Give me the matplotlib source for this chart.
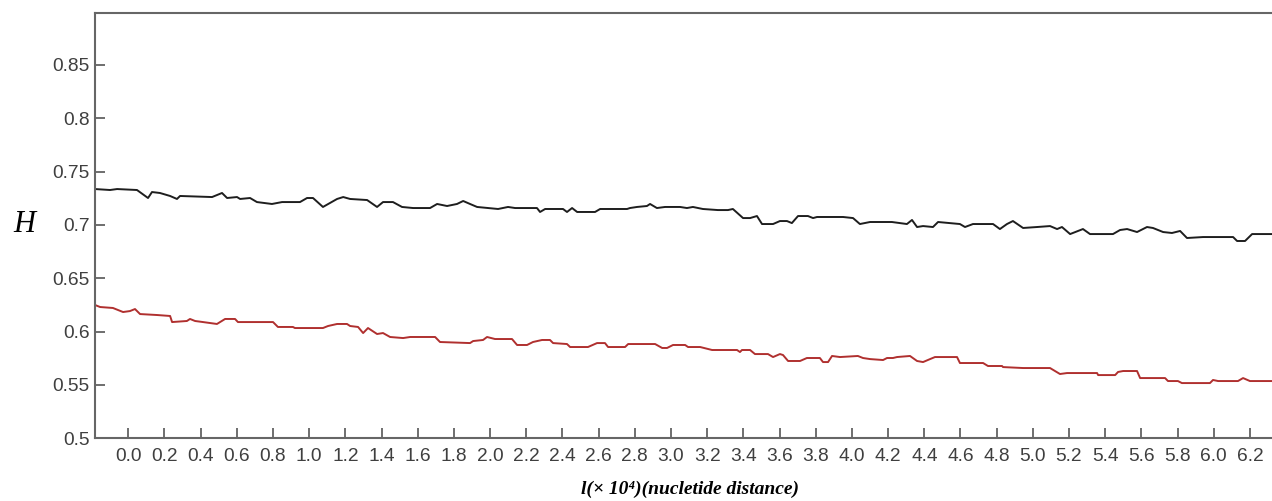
import numpy as np
import matplotlib
matplotlib.use("Agg")
import matplotlib.pyplot as plt

# upper curve (black), x in units of 1e4 nucleotides
black_x = [-0.184, -0.101, -0.062, 0.048, 0.109, 0.131, 0.175, 0.231, 0.269, 0.286,
           0.463, 0.518, 0.546, 0.601, 0.618, 0.673, 0.711, 0.794, 0.850, 0.949,
           0.988, 1.021, 1.076, 1.154, 1.188, 1.226, 1.320, 1.375, 1.408, 1.463,
           1.513, 1.574, 1.668, 1.707, 1.762, 1.817, 1.851, 1.889, 1.928, 1.989,
           2.044, 2.099, 2.138, 2.259, 2.276, 2.304, 2.403, 2.425, 2.453, 2.481,
           2.580, 2.608, 2.757, 2.773, 2.812, 2.867, 2.884, 2.922, 2.967, 3.050,
           3.088, 3.121, 3.176, 3.259, 3.315, 3.342, 3.398, 3.437, 3.475, 3.503,
           3.564, 3.602, 3.641, 3.668, 3.702, 3.757, 3.785, 3.807, 3.951, 4.006,
           4.044, 4.100, 4.221, 4.304, 4.332, 4.360, 4.393, 4.448, 4.476, 4.597,
           4.625, 4.669, 4.780, 4.818, 4.857, 4.890, 4.946, 5.023, 5.095, 5.134,
           5.161, 5.206, 5.277, 5.316, 5.443, 5.482, 5.521, 5.576, 5.631, 5.664,
           5.720, 5.769, 5.814, 5.852, 5.941, 6.107, 6.129, 6.173, 6.212, 6.322]
black_h = [0.7337, 0.7328, 0.7337, 0.7328, 0.7253, 0.7309, 0.7300, 0.7272, 0.7244, 0.7272,
           0.7262, 0.7300, 0.7253, 0.7262, 0.7244, 0.7253, 0.7215, 0.7197, 0.7215, 0.7215,
           0.7253, 0.7253, 0.7169, 0.7244, 0.7262, 0.7244, 0.7234, 0.7169, 0.7215, 0.7215,
           0.7169, 0.7159, 0.7159, 0.7197, 0.7178, 0.7197, 0.7225, 0.7197, 0.7169, 0.7159,
           0.7150, 0.7169, 0.7159, 0.7159, 0.7122, 0.7150, 0.7150, 0.7122, 0.7159, 0.7122,
           0.7122, 0.7150, 0.7150, 0.7159, 0.7169, 0.7178, 0.7197, 0.7159, 0.7169, 0.7169,
           0.7159, 0.7169, 0.7150, 0.7140, 0.7140, 0.7150, 0.7065, 0.7065, 0.7084, 0.7009,
           0.7009, 0.7037, 0.7037, 0.7018, 0.7084, 0.7084, 0.7065, 0.7075, 0.7075, 0.7065,
           0.7009, 0.7028, 0.7028, 0.7009, 0.7047, 0.6981, 0.6990, 0.6981, 0.7028, 0.7009,
           0.6981, 0.7009, 0.7009, 0.6962, 0.7009, 0.7037, 0.6972, 0.6981, 0.6990, 0.6962,
           0.6981, 0.6915, 0.6962, 0.6915, 0.6915, 0.6953, 0.6962, 0.6934, 0.6981, 0.6972,
           0.6934, 0.6925, 0.6944, 0.6878, 0.6887, 0.6887, 0.6850, 0.6850, 0.6915, 0.6915]

# lower curve (red)
red_x = [-0.184, -0.156, -0.085, -0.029, 0.009, 0.037, 0.065, 0.159, 0.231, 0.242,
         0.324, 0.341, 0.369, 0.413, 0.490, 0.535, 0.590, 0.606, 0.800, 0.827,
         0.910, 0.921, 1.076, 1.104, 1.154, 1.209, 1.226, 1.270, 1.298, 1.325,
         1.375, 1.408, 1.447, 1.519, 1.558, 1.696, 1.723, 1.889, 1.906, 1.961,
         1.983, 2.027, 2.121, 2.149, 2.204, 2.237, 2.287, 2.331, 2.348, 2.425,
         2.442, 2.541, 2.591, 2.635, 2.652, 2.746, 2.763, 2.912, 2.951, 2.978,
         3.011, 3.078, 3.094, 3.161, 3.227, 3.365, 3.381, 3.392, 3.437, 3.464,
         3.536, 3.564, 3.602, 3.619, 3.647, 3.713, 3.751, 3.823, 3.840, 3.868,
         3.890, 3.934, 4.033, 4.061, 4.100, 4.172, 4.194, 4.227, 4.249, 4.321,
         4.360, 4.393, 4.432, 4.459, 4.581, 4.597, 4.725, 4.752, 4.830, 4.835,
         4.946, 5.095, 5.150, 5.189, 5.355, 5.361, 5.455, 5.471, 5.499, 5.576,
         5.593, 5.731, 5.747, 5.802, 5.824, 5.979, 5.996, 6.024, 6.134, 6.162,
         6.200, 6.322]
red_h = [0.6250, 0.6231, 0.6222, 0.6184, 0.6193, 0.6212, 0.6165, 0.6156, 0.6147, 0.6090,
         0.6100, 0.6119, 0.6100, 0.6090, 0.6072, 0.6119, 0.6119, 0.6090, 0.6090, 0.6044,
         0.6044, 0.6034, 0.6034, 0.6053, 0.6072, 0.6072, 0.6053, 0.6044, 0.5987, 0.6034,
         0.5978, 0.5987, 0.5950, 0.5940, 0.5950, 0.5950, 0.5903, 0.5893, 0.5912, 0.5922,
         0.5950, 0.5931, 0.5931, 0.5875, 0.5875, 0.5903, 0.5922, 0.5922, 0.5893, 0.5884,
         0.5856, 0.5856, 0.5893, 0.5893, 0.5856, 0.5856, 0.5884, 0.5884, 0.5847, 0.5847,
         0.5875, 0.5875, 0.5856, 0.5856, 0.5828, 0.5828, 0.5809, 0.5828, 0.5828, 0.5790,
         0.5790, 0.5762, 0.5790, 0.5781, 0.5725, 0.5725, 0.5753, 0.5753, 0.5715, 0.5715,
         0.5772, 0.5762, 0.5772, 0.5753, 0.5743, 0.5734, 0.5753, 0.5753, 0.5762, 0.5772,
         0.5725, 0.5715, 0.5743, 0.5762, 0.5762, 0.5706, 0.5706, 0.5678, 0.5678, 0.5668,
         0.5659, 0.5659, 0.5603, 0.5612, 0.5612, 0.5593, 0.5593, 0.5622, 0.5631, 0.5631,
         0.5565, 0.5565, 0.5537, 0.5537, 0.5518, 0.5518, 0.5547, 0.5537, 0.5537, 0.5565,
         0.5537, 0.5537]

x_ticks = np.round(np.arange(0.0, 6.21, 0.2), 1)
y_ticks = [0.5, 0.55, 0.6, 0.65, 0.7, 0.75, 0.8, 0.85]

fig = plt.figure(figsize=(12.72, 5.01), dpi=100)
ax = fig.add_axes([0.0747, 0.1251, 0.9253, 0.8495])

ax.plot(black_x, black_h, color="#1e1e1e", lw=1.4)
ax.plot(red_x, red_h, color="#b0302f", lw=1.4)

ax.set_xlim(-0.184, 6.322)
ax.set_ylim(0.5, 0.899)

ax.set_xticks(x_ticks)
ax.set_xticklabels([f"{v:.1f}" for v in x_ticks])
ax.set_yticks(y_ticks)
ax.set_yticklabels([f"{v:g}" for v in y_ticks])

ax.tick_params(direction="in", length=7, width=1.2, color="#555555",
               labelsize=13.8, labelcolor="#3f3f3f")
ax.tick_params(axis="x", pad=7)
ax.tick_params(axis="y", pad=4)
for lab in ax.get_xticklabels() + ax.get_yticklabels():
    lab.set_family(["Liberation Sans", "DejaVu Sans"])

for side in ("left", "bottom", "top"):
    ax.spines[side].set_color("#666666")
    ax.spines[side].set_linewidth(1.5)
ax.spines["right"].set_visible(False)

fig.text(24 / 1272, 1 - 225 / 501, "H", ha="center", va="center",
         family=["Liberation Serif", "DejaVu Serif"], style="italic", fontsize=22)
fig.text(690 / 1272, 1 - 489 / 501, "l(× 10⁴)(nucletide distance)", ha="center", va="center",
         family=["Liberation Serif", "DejaVu Serif"], style="italic", weight="bold", fontsize=14)

fig.savefig("out.png", dpi=100)
